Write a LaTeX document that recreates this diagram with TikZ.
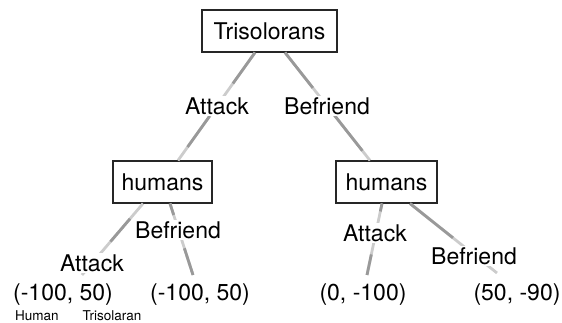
\documentclass[tikz,border=0pt]{standalone}
\usepackage{fontspec}
\setmainfont{TeX Gyre Heros}
\begin{document}
\begin{tikzpicture}[x=1pt,y=-1pt,
  player/.style={draw=black!85,line width=1.1pt,fill=white,minimum height=42pt,
    inner sep=0pt,font=\fontsize{23}{26}\selectfont},
  move/.style={line width=2.8pt,draw=gray!40},
  movedark/.style={line width=2.8pt,draw=gray!80},
  act/.style={fill=white,inner sep=1.5pt,font=\fontsize{23}{26}\selectfont},
  payoff/.style={inner sep=0pt,font=\fontsize{23}{26}\selectfont},
  who/.style={inner sep=0pt,font=\fontsize{13.5}{15}\selectfont}]
\useasboundingbox (0,0) rectangle (562,323);

% decision nodes
\node[player,minimum width=135pt] (tri) at (269.5,31) {Trisolorans};
\node[player,minimum width=99pt] (hl) at (162.5,182) {humans};
\node[player,minimum width=101pt] (hr) at (386.5,182) {humans};

% ends of the terminal branches
\coordinate (t1) at (82,275);
\coordinate (t2) at (193,275);
\coordinate (t3) at (367,275);
\coordinate (t4) at (497,273);

% branches: light base with darker stretches
\draw[move] ([xshift=-14.5pt]tri.south) -- ([xshift=15.5pt]hl.north);
\draw[movedark,dash pattern=on 38pt off 40pt] ([xshift=-14.5pt]tri.south) -- ([xshift=15.5pt]hl.north);
\draw[move] ([xshift=15.5pt]tri.south) -- ([xshift=-16.5pt]hr.north);
\draw[movedark,dash pattern=on 45pt off 35pt] ([xshift=15.5pt]tri.south) -- ([xshift=-16.5pt]hr.north);
\draw[move] ([xshift=-19.5pt]hl.south) -- (t1);
\draw[movedark,dash pattern=on 0pt off 20pt on 30pt off 60pt] ([xshift=-19.5pt]hl.south) -- (t1);
\draw[move] ([xshift=7.5pt]hl.south) -- (t2);
\draw[movedark,dash pattern=on 12pt off 35pt on 40pt off 10pt] ([xshift=7.5pt]hl.south) -- (t2);
\draw[move] ([xshift=-4.5pt]hr.south) -- (t3);
\draw[movedark,dash pattern=on 8pt off 44pt on 30pt off 10pt] ([xshift=-4.5pt]hr.south) -- (t3);
\draw[move] ([xshift=23.5pt]hr.south) -- (t4);
\draw[movedark,dash pattern=on 55pt off 60pt] ([xshift=23.5pt]hr.south) -- (t4);

% action labels
\node[act] (a1) at (217,106) {Attack};
\node[act] (b1) at (327,106) {Befriend};
\node[act] (a2) at (92,263) {Attack};
\node[act] (b2) at (178,230) {Befriend};
\node[act] (a3) at (375,233) {Attack};
\node[act] (b3) at (474,256) {Befriend};

% payoffs
\node[payoff] (p1) at (63,295) {(-100, 50)};
\node[payoff] (p2) at (200,295) {(-100, 50)};
\node[payoff] (p3) at (363,295) {(0, -100)};
\node[payoff] (p4) at (517,295) {(50, -90)};
\node[who] (h) at (37,316) {Human};
\node[who] (s) at (112,316) {Trisolaran};
\end{tikzpicture}
\end{document}
